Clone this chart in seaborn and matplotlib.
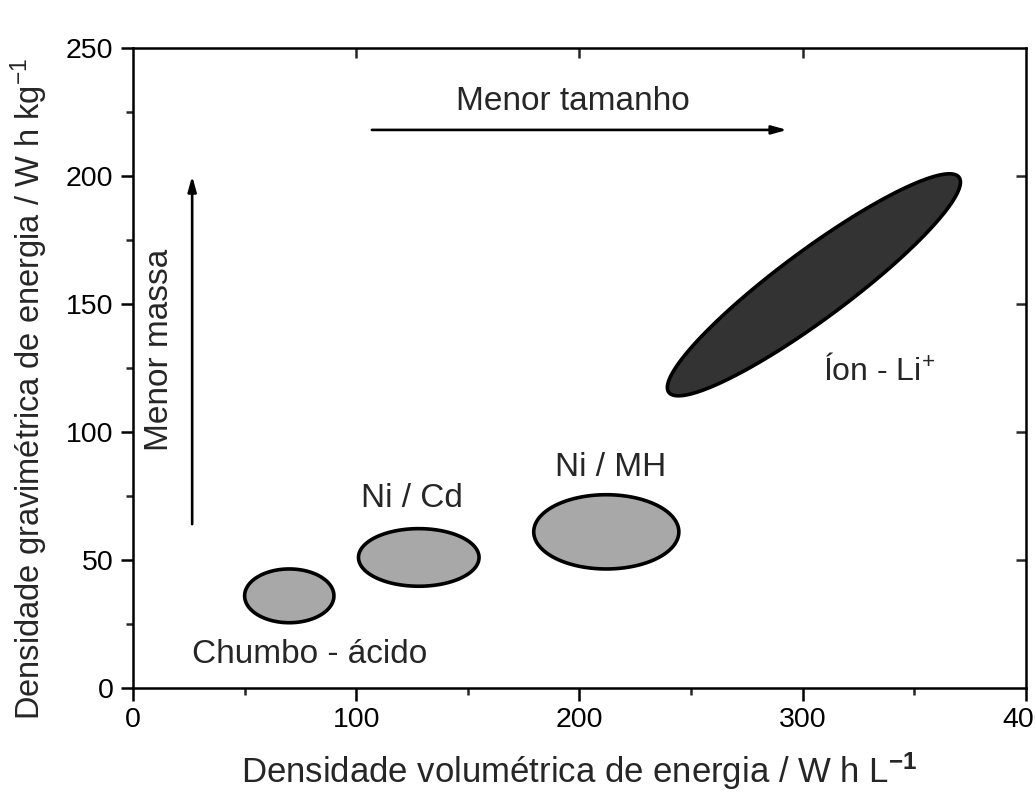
import numpy as np
import matplotlib
matplotlib.use("Agg")
import matplotlib.pyplot as plt
import seaborn as sns

# ---- data ----
batteries = ["Chumbo - ácido", "Ni / Cd", "Ni / MH"]
center_x = [70, 128, 212]          # W h L^-1
center_y = [36, 51, 61]            # W h kg^-1
width_x = [40, 54, 65]
height_y = [21, 22.5, 29]

# Li-ion ellipse: major-axis tips (data) and minor half width (fraction of major half length)
li_tip_low = (240, 115.5)
li_tip_high = (370, 199.5)
li_minor_ratio = 0.19

label_x = [79, 125, 214]
label_y = [13, 74, 86]
li_label = (309, 124)

arrow_h = ((107, 218), (293, 218))
arrow_v = ((26.5, 64), (26.5, 200))
text_h = (197, 229)
text_v = (12, 132)

xticks_major = [0, 100, 200, 300, 400]
xticks_minor = [50, 150, 250, 350]
yticks_major = [0, 50, 100, 150, 200, 250]
yticks_minor = [25, 75, 125, 175, 225]

sns.set_style("ticks")
plt.rcParams['font.family'] = ['Liberation Sans', 'DejaVu Sans']
plt.rcParams['mathtext.fontset'] = 'custom'
plt.rcParams['mathtext.rm'] = 'Liberation Sans'
plt.rcParams['mathtext.it'] = 'Liberation Sans:italic'
plt.rcParams['mathtext.bf'] = 'Liberation Sans:bold'

fig = plt.figure(figsize=(10.35, 8), dpi=100)
ax = fig.add_axes([0.1285, 0.14, 0.9913 - 0.1285, 0.80])
ax.set_xlim(0, 400)
ax.set_ylim(0, 250)

gray = "#a8a8a8"
dark = "#333333"
edge_lw = 2.6

t = np.linspace(0, 2 * np.pi, 300)
for cx, cy, w, h in zip(center_x, center_y, width_x, height_y):
    ax.fill(cx + w / 2 * np.cos(t), cy + h / 2 * np.sin(t),
            facecolor=gray, edgecolor="black", linewidth=edge_lw, zorder=3)

# Li-ion ellipse: built in display space so the minor axis is truly perpendicular
tr = ax.transData
p1 = tr.transform(li_tip_low)
p2 = tr.transform(li_tip_high)
c = (p1 + p2) / 2
u = (p2 - p1) / 2
v = np.array([-u[1], u[0]]) * li_minor_ratio
pts = c + np.outer(np.cos(t), u) + np.outer(np.sin(t), v)
dpts = tr.inverted().transform(pts)
ax.fill(dpts[:, 0], dpts[:, 1], facecolor=dark, edgecolor="black",
        linewidth=edge_lw, zorder=3)

fs_ann = 24
for name, lx, ly in zip(batteries, label_x, label_y):
    ax.text(lx, ly, name, ha="center", va="center", fontsize=fs_ann, zorder=4)
ax.text(li_label[0], li_label[1], "Íon - Li$^{+}$", ha="left", va="center",
        fontsize=23, zorder=4)

arrow_kw = dict(arrowstyle="-|>,head_length=0.9,head_width=0.25", color="black",
                lw=1.9, shrinkA=0, shrinkB=0)
ax.annotate("", xy=arrow_h[1], xytext=arrow_h[0], arrowprops=arrow_kw)
ax.annotate("", xy=arrow_v[1], xytext=arrow_v[0], arrowprops=arrow_kw)
ax.text(text_h[0], text_h[1], "Menor tamanho", ha="center", va="center", fontsize=fs_ann)
ax.text(text_v[0], text_v[1], "Menor massa", ha="center", va="center",
        rotation=90, fontsize=fs_ann)

ax.set_xticks(xticks_major)
ax.set_xticks(xticks_minor, minor=True)
ax.set_yticks(yticks_major)
ax.set_yticks(yticks_minor, minor=True)
ax.tick_params(axis="both", which="major", direction="out", length=9, width=1.8,
               labelsize=20.5, pad=5, colors="black")
ax.tick_params(axis="both", which="minor", direction="out", length=5, width=1.8)

for s in ax.spines.values():
    s.set_visible(True)
    s.set_linewidth(1.8)
    s.set_color("black")

top = ax.secondary_xaxis("top")
top.set_xticks([100, 200, 300])
top.tick_params(direction="in", length=7, width=1.8, labeltop=False)
top.spines["top"].set_visible(False)
right = ax.secondary_yaxis("right")
right.set_yticks([50, 100, 150, 200])
right.tick_params(direction="in", length=7, width=1.8, labelright=False)
right.spines["right"].set_visible(False)

ax.set_xlabel("Densidade volumétrica de energia / W h L$^{\\mathbf{-1}}$",
              fontsize=25)
ax.xaxis.set_label_coords(0.5, -0.098)
ax.set_ylabel("Densidade gravimétrica de energia / W h kg$^{-1}$",
              fontsize=23.5)
ax.yaxis.set_label_coords(-0.093, 0.467)

fig.savefig("out.png", dpi=100)
